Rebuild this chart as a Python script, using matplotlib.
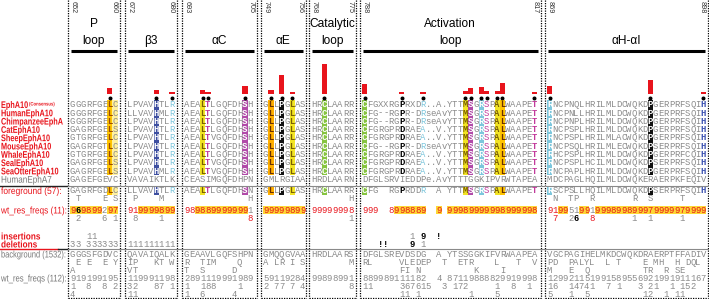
import matplotlib
matplotlib.use("Agg")
import matplotlib.pyplot as plt
from matplotlib.patches import Rectangle, PathPatch
from matplotlib.textpath import TextPath
from matplotlib.font_manager import FontProperties
from matplotlib.transforms import Affine2D

plt.rcParams['font.family'] = ['Liberation Sans', 'DejaVu Sans']

# ---------------- data ----------------
panel_titles = ["P\nloop", "β3", "αC", "αE", "Catalytic\nloop", "Activation\nloop", "αH-αI"]
res_start = [652, 672, 693, 749, 768, 788, 869]
res_end = [660, 680, 705, 756, 775, 817, 898]

species = ["EphA10", "HumanEphA10", "ChimpanzeeEphA", "CatEphA10", "SheepEphA10",
           "MouseEphA10", "WhaleEphA10", "SealEphA10", "SeaOtterEphA10", "HumanEphA7"]

seq_consensus = ["GGGRFGELC", "LPVAVHTLR", "AEALTLGQFDHSH", "GLLPGLAS", "HRCLAARR",
                 "CFGXXRGPRXDR..A.YTTMSGRSPALWAAPET", "RNCPNQLHRILMLDCWQKDPGERPRFSQIH"]
seq_human = ["GGGRFGELC", "LLVAVHMLR", "AEALTLGQFDHSH", "GLLPGLAS", "HRCLAARR",
             "CFG--RGPR-DRseAvYTTMSGRSPALWAAPET", "RNCPNLLHRILMLDCWQKDPGERPRFSQIH"]
seq_chimp = ["GGGRFGELC", "LPVAVHTLR", "AEALTLGQFDHSH", "GLLPGLAS", "HRCLAARR",
             "CFG--RGPR-DRseAvYTTMSGRSPALWAAPET", "RNCPNPLHRILMLDCWQKDPGERPRFSQIH"]
seq_cat = ["GAGRFGELS", "LPVAVHTLR", "AEALTLGQFDHSH", "GLLPGLAS", "HRCLAARR",
           "CFGRGPRDRAEA..V.YTTMSGRSPALWAAPET", "RNCPSPLHRILMLDCWQKDPGERPRFSQIH"]
seq_sheep = ["GTGRFGELC", "LPVAVHTLR", "AEALTVGQFDHSH", "GLLPGLAS", "HRCLAARR",
             "CFGRGPRDRAEA..V.YTTMSGRSPALWAAPET", "RNCPSPLHRILMLACWQKDPGERPRFSQIH"]
seq_mouse = ["GAGRFGTLC", "LPVAVHTLR", "AEALTLGQFDHSH", "GLLPGLAS", "HRCLAARR",
             "CFG--RGPR-DRseAvYTTMSGRSPALWAAPET", "RNCPSQLHRILMLECWQKDPSERPRFSQIH"]
seq_whale = ["GTGRFGELC", "LPVAVHTLR", "AEALTLGQFDHSH", "GLLPGLAS", "HRCLAARR",
             "CFGRGPRDRAEA..V.YTTMSGRSPALWAAPET", "RHCPSPLHRILMLDCWQKDPGERPRFCQIH"]
seq_seal = ["GAGRFGELS", "LPVAVHTLR", "AEALTVGQFDHSH", "GLLPGLAS", "HRCLAARR",
            "CFGRGPRDRAEA..V.YTTMSGRSPALWAAPET", "RNCPSPLHCILMLDCWQKDPSERPRFSQIH"]
seq_seaotter = ["GAGRFGELS", "LPVAVHMLR", "AEALTVGQFDHSH", "GLLPGLAS", "HRCLAARR",
                "CFGRGPRDRAEA..V.YTTMSGRSPALWAAPET", "RNCPAPLHRILMLDCWQKDPGERPRFSQIH"]
seq_epha7 = ["GAGEFGEVC", "VAVAIKTLK", "CEASIMGQFDHPN", "GMLRGIAA", "HRDLAARN",
             "DFGLSRVIEDDPe.AvYTTTGGKIPVRWTAPEA", "MDCPAGLHQILMLDCWQKERAERPKFEQIV"]

fg_seq = ["GAGRFGDLC", "LLVAVHTLR", "AEALTLGQFDHSN", "GLLPGLAS", "HRCLAARR",
          "CFG  RGPRDDR  A YTTMSGRSPALWAAPET", "RSCPSLLHQILMLDCWQKDPSERPRFSQIH"]
fg_sub = [" T    E S", " P    M  ", "            H", "", "       H", "",
          " N  TP  R       R  S     T"]

wt11 = ["969899297", "919999899", "9898899999991", "99999899", "99999998",
        "999  8998889  9 99989999998999998", "919951991999899899979999979999"]
wt11_sub = [" 2    6 1", " 8    1", "            8", "", "       1", "",
            " 7  26  8       1  1     1"]

ins_row = ["   11", "", "", "", "", "         1 9  !", ""]
del_row = ["33 333333", "111111111", "", "", "", "   !!    9 1", ""]

bg_seq = ["GGGSFGDVC", "QAVAIQALK", "GEAAVLGQFSHPN", "GMQQGVAA", "HRDLAARS",
          "DFGLSREVDSDG  A YTSSGGKIFVRWAAPEA", "VGCPAGIHELMKDCWQKDRAERPTFFADIV"]
bg_sub1 = [" E E  E Y", "IP   KT W", "R  TIM    Q", "A LR I S", "       M",
           "RL     VLEDEP  T  ETR    L   T  V", "PD  PALYL  L T    E MH  H DQL"]
bg_sub2 = ["A", "VT", "T  S     D", "", "",
           "       FI N          K    I", "M   E  Q          TR  R SE"]
bg_wt = ["919199195", "119991198", "2891119991989", "59119284", "99898991",
         "889989111182  4 87119888829919998", "129921151991589556921991911167"]
bg_wt_sub1 = ["1  8  8 2", "32   87 1", "1  188    1", "2 77 7 4", "       8",
              "11     367615  3 172     1  8  1", "16  14741  7 1   3 21  1 152"]
bg_wt_sub2 = ["4", "11", "1  6     4", "", "",
              "       11 1         1    5", "5   1  5          12  1 11"]

bar_cols = [[8], [6, 9], [4, 5, 12], [2, 4, 6], [3],
            [1, 8, 12, 20, 21, 23, 24, 26, 27, 33], [1, 20, 30]]
bar_vals = [[6], [4, 2], [3.5, 2, 8], [4, 19, 2], [30],
            [10, 2, 2, 3, 6, 7, 3, 3, 11, 2], [8, 14, 2]]

# ---------------- layout / style ----------------
W = 5.3
char_x0 = [70, 127, 184, 263, 311, 362, 547]
box_x = [(68, 119.5), (125, 176.5), (182, 257), (260.5, 306), (309, 356), (359.5, 541), (545, 708)]

RED = '#e8141c'
GRAY = '#8a8a8a'
YEL = '#f2e424'
GOLD = '#ffc400'
MAG = '#b14aa8'
LBLUE = '#7cc6dc'
GREEN = '#86c440'

# column highlight: col -> (background, text colour, bold)
hl = [
    {8: (GOLD, '#9a4c00', True), 9: ('#fff1a0', GRAY, False)},
    {6: ('#3d4ea0', 'white', True), 9: (None, LBLUE, False)},
    {4: (YEL, '#7a6000', True), 5: (None, '#c2399b', True), 12: (MAG, 'white', True)},
    {2: ('#ffae00', '#6a3000', True), 4: ('#111111', 'white', True), 6: (YEL, '#7a6000', True)},
    {3: (GREEN, 'white', True)},
    {1: (GREEN, 'white', True), 8: (None, 'black', True), 12: (None, LBLUE, False),
     20: (YEL, '#7a6000', True), 21: (MAG, 'white', True), 23: (LBLUE, 'white', True),
     24: (None, '#c2399b', False), 26: (YEL, '#7a6000', True), 27: (GOLD, '#6a3000', True),
     33: (None, '#c2399b', True)},
    {1: (LBLUE, 'white', True), 20: ('#111111', 'white', True), 30: (None, '#3a50b0', True)},
]

# wt_res_freqs(11) digit styles: y=red on yellow, k=black bold, r=red, g=gray
wt11_style = ["ykyyyygyy", "rryyyyyyy", "rryyyyyyyyyyg", "yyyyyyyy", "rrrrrrrr",
              "rrr  ryyyyyy  y yyyyyyyyyyyyyyyyy", "rryyggyygyyyyyyyyyyyyyyyyyyyyy"]
wt11_sub_style = ["g    k g", "r    g", "            r", "", "       g", "",
                  " r  gk  r       g  g     g"]
ins_style = ["   gg", "", "", "", "", "         g k  k", ""]
del_style = ["ggggggggg", "ggggggggg", "", "", "", "   kk    k g", ""]

FS = 6.4
MONO = 'Liberation Mono'

fig = plt.figure(figsize=(7.09, 2.99), dpi=100)
ax = fig.add_axes([0, 0, 1, 1])
ax.set_xlim(0, 709)
ax.set_ylim(299, 0)
ax.axis('off')


def cx(p, c):
    return char_x0[p] + (c - 0.5) * W


def put(p, c, y, ch, color=GRAY, bg=None, bold=False, h=8.3):
    if bg is not None:
        ax.add_patch(Rectangle((char_x0[p] + (c - 1) * W, y - h / 2), W, h,
                               facecolor=bg, edgecolor='none', zorder=2))
    if ch != ' ':
        ax.text(cx(p, c), y + 0.3, ch, fontsize=FS, family=MONO, ha='center', va='center',
                color=color, fontweight='bold' if bold else 'normal', zorder=3)


def put_row(p, y, s, styles=None, base=GRAY, on_yellow=False):
    for i, ch in enumerate(s):
        if ch == ' ':
            continue
        st = styles[i] if styles and i < len(styles) else None
        if st == 'y':
            put(p, i + 1, y, ch, RED, '#fdd835', False, 7.6)
        elif st == 'k':
            put(p, i + 1, y, ch, 'black', '#fdd835' if on_yellow else None, True, 7.6)
        elif st == 'r':
            put(p, i + 1, y, ch, RED)
        elif st == 'g':
            put(p, i + 1, y, ch, GRAY)
        else:
            put(p, i + 1, y, ch, base)


def label(x, y, s, color, bold=False, size=9.6, sx=0.8):
    # condensed label drawn as a path (y axis runs downward)
    fp = FontProperties(family='Liberation Sans', weight='bold' if bold else 'normal')
    tp = TextPath((0, 0), s, size=size, prop=fp)
    tr = Affine2D().scale(sx, -1).translate(x, y + size * 0.36) + ax.transData
    ax.add_patch(PathPatch(tp, transform=tr, facecolor=color, edgecolor='none', lw=0))


seq_rows = [seq_consensus, seq_human, seq_chimp, seq_cat, seq_sheep, seq_mouse,
            seq_whale, seq_seal, seq_seaotter, seq_epha7]
Y0, DY = 104.5, 8.3
Y_FG, Y_FGS = 190.5, 198
Y_WT, Y_WTS = 210, 218
Y_INS, Y_DEL = 236, 244
Y_BG = [254, 262, 270, 278, 286, 294]

for p in range(7):
    x0, x1 = box_x[p]
    # dotted panel frame
    ax.plot([x0, x0], [0, 298], color='black', lw=0.9, ls=(0, (1, 1)))
    ax.plot([x1, x1], [0, 298], color='black', lw=0.9, ls=(0, (1, 1)))
    ax.plot([x0, x1], [298, 298], color='black', lw=0.9, ls=(0, (1, 1)))
    # residue numbers
    ax.text(x0 + 2, 1, str(res_start[p]), rotation=-90, fontsize=5.2, color='#333333',
            ha='left', va='top')
    ax.text(x1 - 2, 1, str(res_end[p]), rotation=-90, fontsize=5.2, color='#333333',
            ha='right', va='top')
    # title
    lines = panel_titles[p].split('\n')
    for k, t in enumerate(reversed(lines)):
        ax.text((x0 + x1) / 2, 41 - 17 * k, t, fontsize=8.6, ha='center', va='center',
                color='black')
    ax.plot([x0 + 3, x1 - 3], [51, 51], color='black', lw=2.2, solid_capstyle='butt')

    # red bars + dots
    xs = [cx(p, c) for c in bar_cols[p]]
    ax.bar(xs, [-v for v in bar_vals[p]], bottom=93.5, width=W, color=RED, zorder=2)
    ax.scatter(xs, [97.5] * len(xs), s=3.5, color='black', zorder=3)

    # alignment rows
    for r, rows in enumerate(seq_rows):
        y = Y0 + DY * r
        for i, ch in enumerate(rows[p]):
            c = i + 1
            if r < 9 and c in hl[p]:
                bg, fc, bd = hl[p][c]
                put(p, c, y, ch, fc, bg, bd)
            else:
                put(p, c, y, ch, GRAY)
    for i, ch in enumerate(fg_seq[p]):
        c = i + 1
        if c in hl[p] and ch != ' ':
            bg, fc, bd = hl[p][c]
            put(p, c, Y_FG, ch, fc, bg, bd)
        else:
            put(p, c, Y_FG, ch, GRAY)
    put_row(p, Y_FGS, fg_sub[p])
    put_row(p, Y_WT, wt11[p], wt11_style[p], on_yellow=True)
    put_row(p, Y_WTS, wt11_sub[p], wt11_sub_style[p])
    put_row(p, Y_INS, ins_row[p], ins_style[p])
    put_row(p, Y_DEL, del_row[p], del_style[p])
    for y, s in zip(Y_BG, [bg_seq[p], bg_sub1[p], bg_sub2[p], bg_wt[p], bg_wt_sub1[p], bg_wt_sub2[p]]):
        put_row(p, y, s)

# separator lines
ax.plot([0, 68], [186.2, 186.2], color='#222222', lw=1.0)
ax.plot([68, 709], [186.2, 186.2], color='#8a8a8a', lw=0.8)
ax.plot([0, 58], [249, 249], color=RED, lw=1.0)
ax.plot([58, 68], [249, 249], color='#222222', lw=1.0)
ax.plot([68, 709], [249, 249], color='#8a8a8a', lw=0.8)

# left labels
for r, name in enumerate(species):
    y = Y0 + DY * r
    if r == 9:
        label(1, y, name, '#777777', False, sx=0.85)
    else:
        label(1, y, name, RED, True, sx=0.76)
label(29, Y0 - 0.8, "(Consensus)", RED, True, size=5.0, sx=0.85)
label(1, Y_FG, "foreground (57):", RED, False, sx=0.88)
label(1, Y_WT, "wt_res_freqs (11):", RED, False, sx=0.86)
label(1, Y_INS, "insertions", RED, True, sx=0.86)
label(1, Y_DEL, "deletions", RED, True, sx=0.86)
label(1, Y_BG[0], "background (1532):", '#777777', False, sx=0.78)
label(1, Y_BG[3], "wt_res_freqs (112):", '#777777', False, sx=0.8)

fig.savefig('out.png', dpi=100)
